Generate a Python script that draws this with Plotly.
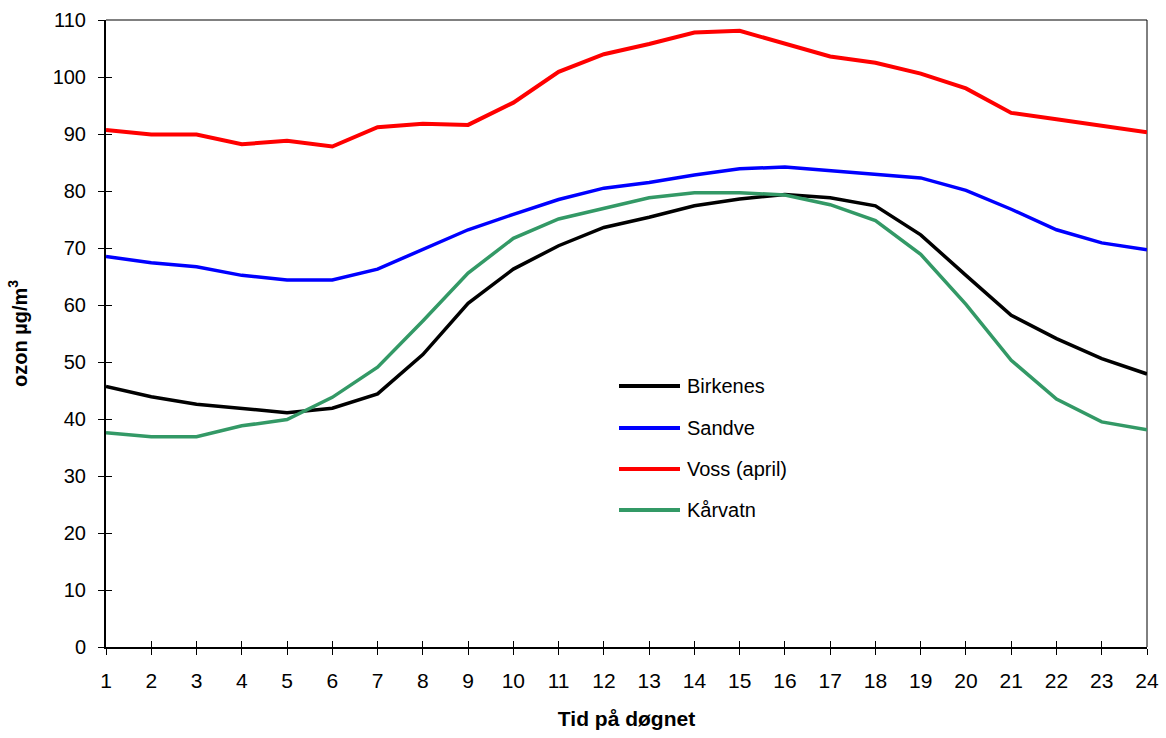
import plotly.graph_objects as go

hours = list(range(1, 25))
birkenes = [45.7, 43.9, 42.6, 41.9, 41.1, 41.9, 44.4, 51.3, 60.3, 66.3, 70.4, 73.6,
            75.4, 77.4, 78.6, 79.4, 78.8, 77.4, 72.3, 65.2, 58.2, 54.1, 50.6, 47.9]
sandve = [68.5, 67.4, 66.7, 65.2, 64.4, 64.4, 66.3, 69.7, 73.2, 75.9, 78.5, 80.5,
          81.5, 82.8, 83.9, 84.2, 83.6, 83.0, 82.3, 80.1, 76.8, 73.2, 70.9, 69.7]
voss = [90.7, 89.9, 89.9, 88.2, 88.8, 87.8, 91.2, 91.8, 91.6, 95.5, 100.9, 104.0,
        105.8, 107.8, 108.1, 105.9, 103.6, 102.5, 100.6, 98.0, 93.7, 92.6, 91.5, 90.3]
karvatn = [37.6, 36.9, 36.9, 38.8, 39.9, 43.8, 49.1, 57.2, 65.6, 71.7, 75.1, 77.0,
           78.8, 79.7, 79.7, 79.3, 77.6, 74.8, 68.9, 60.1, 50.3, 43.5, 39.5, 38.1]

series_names = ["Birkenes", "Sandve", "Voss (april)", "Kårvatn"]
series_data = [birkenes, sandve, voss, karvatn]
colors = ["#000000", "#0000FF", "#FF0000", "#339966"]
widths = [3.5, 3.5, 4, 3.5]

FONT = "Liberation Sans, Arial, sans-serif"

fig = go.Figure()
for name, data, c, w in zip(series_names, series_data, colors, widths):
    fig.add_trace(go.Scatter(x=hours, y=data, mode="lines", name=name,
                             line=dict(color=c, width=w), showlegend=False))

# invisible trace for overlay axes (inside tick marks to make crossing ticks)
fig.add_trace(go.Scatter(x=[None], y=[None], xaxis="x2", yaxis="y2",
                         showlegend=False, hoverinfo="skip"))

yticks = list(range(0, 111, 10))

fig.update_layout(
    width=1166, height=738,
    margin=dict(l=106, r=19, t=20, b=91),
    paper_bgcolor="white", plot_bgcolor="white",
    font=dict(family=FONT, color="black"),
    xaxis=dict(range=[1, 24], tickvals=hours, showgrid=False, zeroline=False,
               showline=True, linecolor="black", linewidth=2, automargin=False,
               ticks="outside", ticklen=6, tickcolor="black", tickwidth=1,
               ticklabelstandoff=8,
               tickfont=dict(size=21, family=FONT),
               title=dict(text="<b>Tid på døgnet</b>", font=dict(size=21, family=FONT),
                          standoff=20)),
    yaxis=dict(range=[0, 110], tickvals=yticks, showgrid=False, zeroline=False,
               showline=True, linecolor="black", linewidth=2, automargin=False,
               ticks="outside", ticklen=6, tickcolor="black", tickwidth=1,
               ticklabelstandoff=8,
               tickfont=dict(size=20, family=FONT),
               title=dict(text="<b>ozon µg/m<sup>3</sup></b>", font=dict(size=20, family=FONT),
                          standoff=20)),
    xaxis2=dict(range=[1, 24], tickvals=hours, overlaying="x", anchor="y2",
                side="bottom", showgrid=False, zeroline=False, showline=False,
                ticks="inside", ticklen=6, tickcolor="black", tickwidth=1,
                showticklabels=False, automargin=False),
    yaxis2=dict(range=[0, 110], tickvals=yticks, overlaying="y", anchor="x2",
                side="left", showgrid=False, zeroline=False, showline=False,
                ticks="inside", ticklen=6, tickcolor="black", tickwidth=1,
                showticklabels=False, automargin=False),
    showlegend=False,
)

# plot frame: top gray, right black
fig.add_shape(type="line", xref="paper", yref="paper", x0=0, x1=1, y0=1, y1=1,
              line=dict(color="#808080", width=2), layer="below")
fig.add_shape(type="line", xref="paper", yref="paper", x0=1, x1=1, y0=0, y1=1,
              line=dict(color="black", width=1), layer="below")

# manual legend (layout positions in pixels converted to paper)
PL, PR, PT, PB = 106, 1147, 20, 647
def px_to_paper(px, py):
    return (px - PL) / (PR - PL), (PB - py) / (PB - PT)

legend_y = [386, 428, 469, 510]
for name, c, ly in zip(series_names, colors, legend_y):
    x0, y0 = px_to_paper(619, ly)
    x1, _ = px_to_paper(680, ly)
    fig.add_shape(type="line", xref="paper", yref="paper", x0=x0, x1=x1, y0=y0, y1=y0,
                  line=dict(color=c, width=4))
    tx, ty = px_to_paper(685, ly)
    fig.add_annotation(x=tx, y=ty, xref="paper", yref="paper", text=name,
                       showarrow=False, xanchor="left", yanchor="middle",
                       font=dict(size=20, family=FONT, color="black"))

fig.write_html("out.html", config={"displayModeBar": False},
               post_script="document.body.style.margin='0';document.body.style.overflow='hidden';")
